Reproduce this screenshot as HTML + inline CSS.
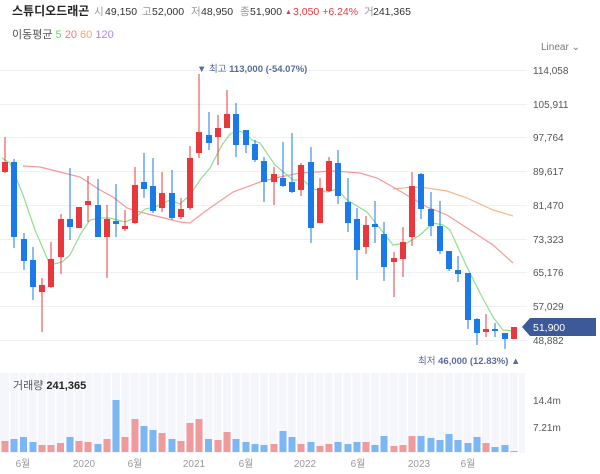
<!DOCTYPE html>
<html><head><meta charset="utf-8"><style>
body{margin:0;background:#fff;width:600px;height:474px;overflow:hidden;font-family:"Liberation Sans","Noto Sans CJK KR",sans-serif}
svg{position:absolute;left:0;top:0}
</style></head><body>
<svg width="600" height="474" viewBox="0 0 600 474" font-family="Liberation Sans, Noto Sans CJK KR, sans-serif">
<text x="12" y="15" font-size="12" font-weight="bold" fill="#222">스튜디오드래곤</text>
<g font-size="10.5" fill="#999">
<text x="94" y="15">시</text><text x="105" y="15" fill="#333">49,150</text>
<text x="142" y="15">고</text><text x="152" y="15" fill="#333">52,000</text>
<text x="191" y="15">저</text><text x="201" y="15" fill="#333">48,950</text>
<text x="240" y="15">종</text><text x="250" y="15" fill="#333">51,900</text>
<text x="285" y="14" font-size="7" fill="#e8383d">▲</text>
<text x="293" y="15" fill="#e8383d">3,050 +6.24%</text>
<text x="364" y="15">거</text><text x="373" y="15" fill="#333">241,365</text>
</g>
<text x="12" y="38" font-size="11" fill="#555">이동평균 <tspan fill="#6cd46c">5</tspan> <tspan fill="#f47a7a">20</tspan> <tspan fill="#f5a86a">60</tspan> <tspan fill="#a58cf0">120</tspan></text>
<text x="541" y="50" font-size="10" fill="#777">Linear ⌄</text>
<g stroke="#eef0f3" stroke-width="1">
<line x1="0" x2="527" y1="70.5" y2="70.5"/><line x1="0" x2="527" y1="104.5" y2="104.5"/><line x1="0" x2="527" y1="137.5" y2="137.5"/><line x1="0" x2="527" y1="171.5" y2="171.5"/><line x1="0" x2="527" y1="205.5" y2="205.5"/><line x1="0" x2="527" y1="239.5" y2="239.5"/><line x1="0" x2="527" y1="272.5" y2="272.5"/><line x1="0" x2="527" y1="306.5" y2="306.5"/><line x1="0" x2="527" y1="340.5" y2="340.5"/>
</g>
<g font-size="10" fill="#555">
<text x="533" y="74">114,058</text><text x="533" y="108">105,911</text><text x="533" y="141">97,764</text><text x="533" y="175">89,617</text><text x="533" y="209">81,470</text><text x="533" y="243">73,323</text><text x="533" y="276">65,176</text><text x="533" y="310">57,029</text><text x="533" y="344">48,882</text>
</g>
<text x="197" y="72" font-size="9.5" fill="#5b6b9a">▼ 최고 <tspan font-weight="bold">113,000 (-54.07%)</tspan></text>
<text x="418" y="364" font-size="9.5" fill="#5b6b9a">최저 <tspan font-weight="bold">46,000 (12.83%)</tspan> ▲</text>
<polyline fill="none" stroke="#f5b88a" stroke-width="1.2" points="393,189 413,187 427,188 447,191 467,198 493,210 513,216"/>
<polyline fill="none" stroke="#f59a9a" stroke-width="1.2" points="23,166 40,167 60,172 80,177 100,190 113,197 127,208 140,212 160,217 180,222 190,223 207,210 233,192 260,182 280,177 300,173 333,171 360,173 377,178 393,187 410,197 427,207 447,215 467,228 493,245 513,263"/>
<polyline fill="none" stroke="#8ee08e" stroke-width="1.2" points="2,158 10,163 23,195 35,230 50,265 62,262 70,255 80,235 90,220 100,218 110,218 125,222 135,218 145,209 155,207 170,200 180,204 190,195 200,180 210,168 222,145 230,134 238,131 245,133 252,140 260,143 275,165 293,180 303,180 313,189 327,192 337,189 347,200 367,212 393,245 407,243 420,235 433,223 443,225 450,230 467,267 480,293 493,317 503,330 515,331"/>
<g fill="#e8383d">
<rect x="4.5" y="137" width="1" height="36"/><rect x="2" y="162" width="6" height="10"/>
<rect x="41.5" y="278" width="1" height="54"/><rect x="39" y="285" width="6" height="7"/>
<rect x="50.5" y="242" width="1" height="46"/><rect x="48" y="259" width="6" height="28"/>
<rect x="60.5" y="214" width="1" height="60"/><rect x="58" y="219" width="6" height="38"/>
<rect x="76" y="207" width="6" height="21"/>
<rect x="87.5" y="176" width="1" height="46"/><rect x="85" y="201" width="6" height="4"/>
<rect x="106.5" y="205" width="1" height="73"/><rect x="104" y="219" width="6" height="18"/>
<rect x="124.5" y="210" width="1" height="21"/><rect x="122" y="226" width="6" height="3"/>
<rect x="134.5" y="167" width="1" height="57"/><rect x="132" y="185" width="6" height="38"/>
<rect x="161.5" y="172" width="1" height="40"/><rect x="159" y="193" width="6" height="15"/>
<rect x="180.5" y="198" width="1" height="21"/><rect x="178" y="209" width="6" height="8"/>
<rect x="189.5" y="146" width="1" height="64"/><rect x="187" y="158" width="6" height="50"/>
<rect x="198.5" y="74" width="1" height="84"/><rect x="196" y="132" width="6" height="21"/>
<rect x="217.5" y="115" width="1" height="50"/><rect x="215" y="128" width="6" height="9"/>
<rect x="226.5" y="90" width="1" height="38"/><rect x="224" y="114" width="6" height="14"/>
<rect x="273.5" y="167" width="1" height="38"/><rect x="271" y="174" width="6" height="8"/>
<rect x="300.5" y="163" width="1" height="33"/><rect x="298" y="165" width="6" height="25"/>
<rect x="319.5" y="178" width="1" height="45"/><rect x="317" y="188" width="6" height="35"/>
<rect x="328.5" y="157" width="1" height="35"/><rect x="326" y="161" width="6" height="30"/>
<rect x="365.5" y="216" width="1" height="38"/><rect x="363" y="225" width="6" height="22"/>
<rect x="393.5" y="252" width="1" height="45"/><rect x="391" y="258" width="6" height="4"/>
<rect x="402.5" y="227" width="1" height="50"/><rect x="400" y="242" width="6" height="17"/>
<rect x="411.5" y="172" width="1" height="74"/><rect x="409" y="186" width="6" height="51"/>
<rect x="485.5" y="314" width="1" height="23"/><rect x="483" y="329" width="6" height="3"/>
<rect x="513.5" y="327" width="1" height="12"/><rect x="511" y="327" width="6" height="12"/>
</g>
<g fill="#1a7ae8">
<rect x="13.5" y="159" width="1" height="89"/><rect x="11" y="162" width="6" height="75"/>
<rect x="23.5" y="233" width="1" height="37"/><rect x="21" y="239" width="6" height="22"/>
<rect x="32.5" y="247" width="1" height="53"/><rect x="30" y="260" width="6" height="27"/>
<rect x="69.5" y="168" width="1" height="72"/><rect x="67" y="219" width="6" height="8"/>
<rect x="97.5" y="179" width="1" height="58"/><rect x="95" y="205" width="6" height="32"/>
<rect x="115.5" y="184" width="1" height="53"/><rect x="113" y="221" width="6" height="3"/>
<rect x="143.5" y="153" width="1" height="45"/><rect x="141" y="182" width="6" height="7"/>
<rect x="152.5" y="158" width="1" height="55"/><rect x="150" y="186" width="6" height="25"/>
<rect x="171.5" y="170" width="1" height="50"/><rect x="169" y="193" width="6" height="25"/>
<rect x="208.5" y="112" width="1" height="38"/><rect x="206" y="135" width="6" height="8"/>
<rect x="235.5" y="103" width="1" height="54"/><rect x="233" y="114" width="6" height="31"/>
<rect x="245.5" y="130" width="1" height="23"/><rect x="243" y="130" width="6" height="15"/>
<rect x="254.5" y="140" width="1" height="22"/><rect x="252" y="144" width="6" height="16"/>
<rect x="263.5" y="157" width="1" height="45"/><rect x="261" y="161" width="6" height="21"/>
<rect x="282.5" y="142" width="1" height="45"/><rect x="280" y="178" width="6" height="8"/>
<rect x="291.5" y="133" width="1" height="60"/><rect x="289" y="182" width="6" height="10"/>
<rect x="310.5" y="147" width="1" height="96"/><rect x="308" y="162" width="6" height="66"/>
<rect x="337.5" y="150" width="1" height="54"/><rect x="335" y="163" width="6" height="33"/>
<rect x="347.5" y="178" width="1" height="54"/><rect x="345" y="202" width="6" height="21"/>
<rect x="356.5" y="208" width="1" height="72"/><rect x="354" y="219" width="6" height="31"/>
<rect x="374.5" y="201" width="1" height="42"/><rect x="372" y="224" width="6" height="3"/>
<rect x="383.5" y="222" width="1" height="59"/><rect x="381" y="234" width="6" height="33"/>
<rect x="420.5" y="173" width="1" height="46"/><rect x="418" y="174" width="6" height="35"/>
<rect x="430.5" y="192" width="1" height="44"/><rect x="428" y="209" width="6" height="17"/>
<rect x="439.5" y="201" width="1" height="53"/><rect x="437" y="226" width="6" height="25"/>
<rect x="448.5" y="251" width="1" height="20"/><rect x="446" y="251" width="6" height="18"/>
<rect x="457.5" y="256" width="1" height="26"/><rect x="455" y="270" width="6" height="4"/>
<rect x="467.5" y="273" width="1" height="56"/><rect x="465" y="273" width="6" height="47"/>
<rect x="476.5" y="318" width="1" height="27"/><rect x="474" y="319" width="6" height="14"/>
<rect x="494.5" y="323" width="1" height="14"/><rect x="492" y="329" width="6" height="2"/>
<rect x="504.5" y="333" width="1" height="16"/><rect x="502" y="333" width="6" height="6"/>
</g>
<path d="M522,327 L530,318 L596,318 L596,336 L530,336 Z" fill="#3d5a98"/>
<text x="533" y="331" font-size="10.5" fill="#fff">51,900</text>
<rect x="0" y="373" width="525" height="80" fill="#f4f6fb"/>
<g stroke="#fff" stroke-width="1.2">
<line x1="9.6" x2="9.6" y1="373" y2="453"/><line x1="18.9" x2="18.9" y1="373" y2="453"/><line x1="28.1" x2="28.1" y1="373" y2="453"/><line x1="37.4" x2="37.4" y1="373" y2="453"/><line x1="46.6" x2="46.6" y1="373" y2="453"/><line x1="55.9" x2="55.9" y1="373" y2="453"/><line x1="65.1" x2="65.1" y1="373" y2="453"/><line x1="74.4" x2="74.4" y1="373" y2="453"/><line x1="83.6" x2="83.6" y1="373" y2="453"/><line x1="92.9" x2="92.9" y1="373" y2="453"/><line x1="102.1" x2="102.1" y1="373" y2="453"/><line x1="111.4" x2="111.4" y1="373" y2="453"/><line x1="120.6" x2="120.6" y1="373" y2="453"/><line x1="129.9" x2="129.9" y1="373" y2="453"/><line x1="139.1" x2="139.1" y1="373" y2="453"/><line x1="148.4" x2="148.4" y1="373" y2="453"/><line x1="157.6" x2="157.6" y1="373" y2="453"/><line x1="166.9" x2="166.9" y1="373" y2="453"/><line x1="176.1" x2="176.1" y1="373" y2="453"/><line x1="185.4" x2="185.4" y1="373" y2="453"/><line x1="194.6" x2="194.6" y1="373" y2="453"/><line x1="203.9" x2="203.9" y1="373" y2="453"/><line x1="213.1" x2="213.1" y1="373" y2="453"/><line x1="222.4" x2="222.4" y1="373" y2="453"/><line x1="231.6" x2="231.6" y1="373" y2="453"/><line x1="240.9" x2="240.9" y1="373" y2="453"/><line x1="250.1" x2="250.1" y1="373" y2="453"/><line x1="259.4" x2="259.4" y1="373" y2="453"/><line x1="268.6" x2="268.6" y1="373" y2="453"/><line x1="277.9" x2="277.9" y1="373" y2="453"/><line x1="287.1" x2="287.1" y1="373" y2="453"/><line x1="296.4" x2="296.4" y1="373" y2="453"/><line x1="305.6" x2="305.6" y1="373" y2="453"/><line x1="314.9" x2="314.9" y1="373" y2="453"/><line x1="324.1" x2="324.1" y1="373" y2="453"/><line x1="333.4" x2="333.4" y1="373" y2="453"/><line x1="342.6" x2="342.6" y1="373" y2="453"/><line x1="351.9" x2="351.9" y1="373" y2="453"/><line x1="361.1" x2="361.1" y1="373" y2="453"/><line x1="370.4" x2="370.4" y1="373" y2="453"/><line x1="379.6" x2="379.6" y1="373" y2="453"/><line x1="388.9" x2="388.9" y1="373" y2="453"/><line x1="398.1" x2="398.1" y1="373" y2="453"/><line x1="407.4" x2="407.4" y1="373" y2="453"/><line x1="416.6" x2="416.6" y1="373" y2="453"/><line x1="425.9" x2="425.9" y1="373" y2="453"/><line x1="435.1" x2="435.1" y1="373" y2="453"/><line x1="444.4" x2="444.4" y1="373" y2="453"/><line x1="453.6" x2="453.6" y1="373" y2="453"/><line x1="462.9" x2="462.9" y1="373" y2="453"/><line x1="472.1" x2="472.1" y1="373" y2="453"/><line x1="481.4" x2="481.4" y1="373" y2="453"/><line x1="490.6" x2="490.6" y1="373" y2="453"/><line x1="499.9" x2="499.9" y1="373" y2="453"/><line x1="509.1" x2="509.1" y1="373" y2="453"/><line x1="518.4" x2="518.4" y1="373" y2="453"/>
</g>
<g fill="#f09a9c">
<rect x="1.5" y="441" width="7" height="11"/>
<rect x="38.5" y="445" width="7" height="7"/><rect x="47.5" y="445" width="7" height="7"/><rect x="57" y="443" width="7" height="9"/>
<rect x="75.5" y="441" width="7" height="11"/><rect x="84.5" y="442" width="7" height="10"/>
<rect x="103.5" y="439" width="7" height="13"/><rect x="121.5" y="437" width="7" height="15"/>
<rect x="131.5" y="419" width="7" height="33"/><rect x="158.5" y="433" width="7" height="19"/>
<rect x="177.5" y="441" width="7" height="11"/><rect x="186.5" y="423" width="7" height="29"/><rect x="195.5" y="419" width="7" height="33"/>
<rect x="214.5" y="440" width="7" height="12"/><rect x="223.5" y="432" width="7" height="20"/>
<rect x="270.5" y="444" width="7" height="8"/><rect x="297.5" y="444" width="7" height="8"/>
<rect x="316.5" y="446" width="7" height="6"/><rect x="325.5" y="444" width="7" height="8"/>
<rect x="362.5" y="442" width="7" height="10"/><rect x="390.5" y="446" width="7" height="6"/>
<rect x="399.5" y="445" width="7" height="7"/><rect x="408.5" y="436" width="7" height="16"/>
<rect x="482.5" y="443" width="7" height="9"/><rect x="510.5" y="451" width="7" height="1"/>
</g>
<g fill="#7cb6f5">
<rect x="10.5" y="439" width="7" height="13"/><rect x="20" y="437" width="7" height="15"/><rect x="29.5" y="442" width="7" height="10"/>
<rect x="66.5" y="437" width="7" height="15"/><rect x="94.5" y="444" width="7" height="8"/>
<rect x="112.5" y="400" width="7" height="52"/><rect x="140.5" y="426" width="7" height="26"/>
<rect x="149.5" y="430" width="7" height="22"/><rect x="168.5" y="439" width="7" height="13"/>
<rect x="205" y="439" width="7" height="13"/><rect x="232.5" y="439" width="7" height="13"/>
<rect x="242.5" y="442" width="7" height="10"/><rect x="251.5" y="444" width="7" height="8"/>
<rect x="260.5" y="445" width="7" height="7"/><rect x="279.5" y="431" width="7" height="21"/>
<rect x="288.5" y="437" width="7" height="15"/><rect x="307.5" y="442" width="7" height="10"/>
<rect x="334.5" y="442" width="7" height="10"/><rect x="344.5" y="444" width="7" height="8"/>
<rect x="353.5" y="442" width="7" height="10"/><rect x="371.5" y="445" width="7" height="7"/>
<rect x="380.5" y="436" width="7" height="16"/><rect x="417.5" y="436" width="7" height="16"/>
<rect x="427.5" y="438" width="7" height="14"/><rect x="436.5" y="440" width="7" height="12"/>
<rect x="445.5" y="434" width="7" height="18"/><rect x="454.5" y="440" width="7" height="12"/>
<rect x="464.5" y="443" width="7" height="9"/><rect x="473.5" y="437" width="7" height="15"/>
<rect x="491.5" y="447" width="7" height="5"/><rect x="501.5" y="445" width="7" height="7"/>
</g>
<text x="13" y="389" font-size="11" fill="#555">거래량 <tspan font-weight="bold" fill="#222">241,365</tspan></text>
<text x="533" y="404" font-size="10" fill="#555">14.4m</text>
<text x="533" y="431" font-size="10" fill="#555">7.21m</text>
<g font-size="10" fill="#999" text-anchor="middle">
<text x="23" y="467">6월</text><text x="84" y="467">2020</text><text x="135" y="467">6월</text><text x="194" y="467">2021</text><text x="246" y="467">6월</text><text x="305" y="467">2022</text><text x="358" y="467">6월</text><text x="419" y="467">2023</text><text x="468" y="467">6월</text>
</g>
</svg>
</body></html>
